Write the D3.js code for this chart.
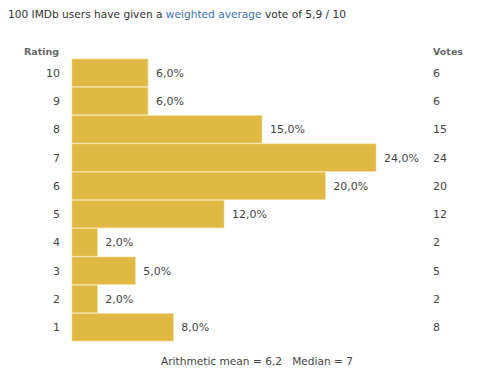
<!DOCTYPE html>
<meta charset="utf-8">
<style>
    body { margin: 0; background: #fff; }
    text { font-family: "DejaVu Sans", Verdana, sans-serif; }
    .head { font-weight: bold; fill: #666; font-size: 9.5px; }
    .lab { fill: #444; font-size: 11px; }
</style>
<body>
<script src="https://d3js.org/d3.v7.min.js"></script>
<script>
    var ratings = [10, 9, 8, 7, 6, 5, 4, 3, 2, 1];
    var votes = [6, 6, 15, 24, 20, 12, 2, 5, 2, 8];
    var percents = [6.0, 6.0, 15.0, 24.0, 20.0, 12.0, 2.0, 5.0, 2.0, 8.0];

    var fmt = d => d3.format(".1f")(d).replace(".", ",");

    var svg = d3.select("body").append("svg").attr("width", 490).attr("height", 383);

    var x = d3.scaleLinear().domain([0, 24]).range([72, 376]);
    var y = d3.scaleBand().domain(ratings).range([59, 341]).paddingInner(0.03);

    // title
    var t = svg.append("text").attr("x", 8).attr("y", 18).attr("font-size", 10.6).attr("fill", "#333");
    t.append("tspan").text("100 IMDb users have given a ");
    t.append("tspan").attr("fill", "#3d72b4").text("weighted average");
    t.append("tspan").text(" vote of 5,9 / 10");

    svg.append("text").attr("class", "head").attr("x", 59).attr("y", 55).attr("text-anchor", "end").text("Rating");
    svg.append("text").attr("class", "head").attr("x", 433).attr("y", 55).text("Votes");

    var rows = svg.selectAll(".row").data(ratings).enter().append("g").attr("class", "row");

    rows.append("rect")
        .attr("x", x(0))
        .attr("y", d => y(d))
        .attr("width", (d, i) => x(percents[i]) - x(0))
        .attr("height", y.bandwidth())
        .attr("fill", "#e0b944")
        .attr("stroke", "#efd98f")
        .attr("stroke-width", 0.6);

    rows.append("text").attr("class", "lab")
        .attr("x", 60).attr("text-anchor", "end")
        .attr("y", d => y(d) + y.bandwidth() / 2 + 4)
        .text(d => d);

    rows.append("text").attr("class", "lab")
        .attr("x", (d, i) => x(percents[i]) + 8)
        .attr("y", d => y(d) + y.bandwidth() / 2 + 4)
        .text((d, i) => fmt(percents[i]) + "%");

    rows.append("text").attr("class", "lab")
        .attr("x", 433)
        .attr("y", d => y(d) + y.bandwidth() / 2 + 4)
        .text((d, i) => votes[i]);

    svg.append("text").attr("class", "lab")
        .attr("x", 257).attr("y", 365).attr("text-anchor", "middle")
        .attr("font-size", "10.6px").style("font-size", "10.6px")
        .attr("xml:space", "preserve")
        .text("Arithmetic mean = 6,2   Median = 7");
</script>
</body>
</html>
